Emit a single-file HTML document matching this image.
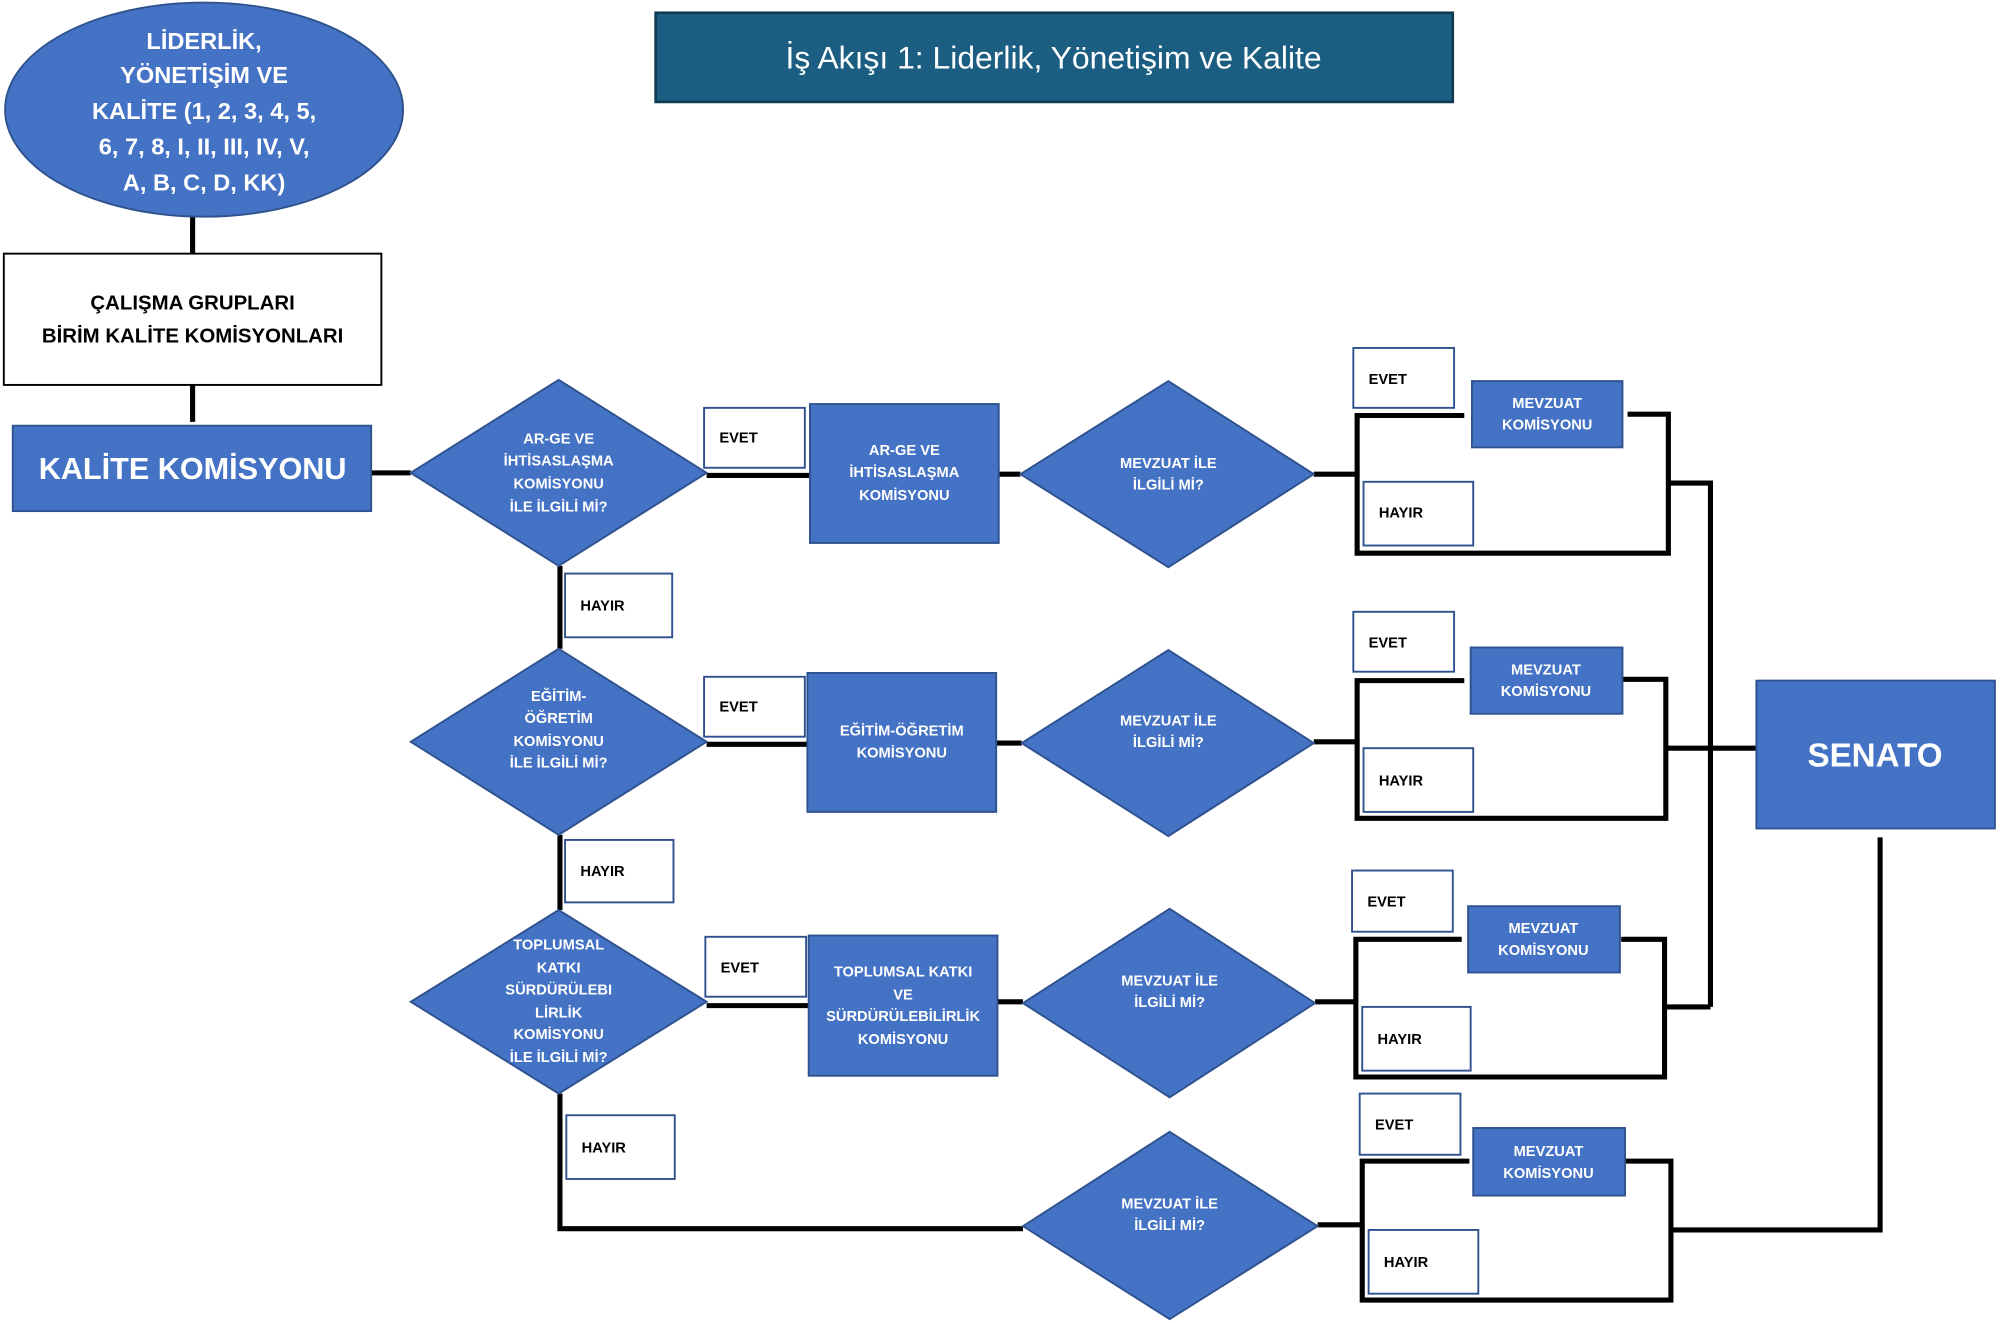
<!DOCTYPE html>
<html><head><meta charset="utf-8"><style>
html,body{margin:0;padding:0;background:#fff;}
svg{display:block;}
text{font-family:"Liberation Sans",sans-serif;font-weight:bold;dominant-baseline:central;}
.w{fill:#fff;text-anchor:middle;}
.b{fill:#000;}
.s{font-size:11.5px;}
.ln{stroke:#000;stroke-width:4;fill:none;}
.bl{fill:#4472C4;stroke:#2F528F;stroke-width:1.5;}
.lb{fill:#fff;stroke:#2F528F;stroke-width:1.5;}
</style></head><body>
<svg width="2000" height="1323" viewBox="0 0 1568 1038" preserveAspectRatio="none" xmlns="http://www.w3.org/2000/svg">
<!-- lines -->
<g class="ln">
<path d="M151 170V199M151 302V331M291 371H322M554 373H635M783 372H800M1030 372H1064"/>
<path d="M1062 326H1148M1064 326V434H1308V325H1276M1308 379H1341V790"/>
<path d="M439 444V509M554 584H633M781 583H801M1030 582H1064"/>
<path d="M1062 534H1148M1064 534V642H1306V533H1272M1306 587H1377"/>
<path d="M439 655V714M554 789H634M782 786H802M1031 786H1063"/>
<path d="M1061 737H1146M1063 737V845H1305V737H1271M1305 790H1341"/>
<path d="M439 858V964H802M1033 961H1068"/>
<path d="M1066 911H1152M1068 911V1020H1310V911H1274M1309 965H1474V657"/>
</g>
<!-- ellipse -->
<ellipse cx="160" cy="86" rx="156" ry="84" class="bl"/>
<g class="w" font-size="18.5">
<text x="160" y="32">LİDERLİK,</text>
<text x="160" y="59">YÖNETİŞİM VE</text>
<text x="160" y="87">KALİTE (1, 2, 3, 4, 5,</text>
<text x="160" y="115">6, 7, 8, I, II, III, IV, V,</text>
<text x="160" y="143">A, B, C, D, KK)</text>
</g>
<!-- title -->
<rect x="514" y="10" width="625" height="70" fill="#1B5E82" stroke="#0E3A50" stroke-width="2"/>
<text x="826" y="45" class="w" style="font-weight:normal" font-size="25">İş Akışı 1: Liderlik, Yönetişim ve Kalite</text>
<!-- calisma -->
<rect x="3" y="199" width="296" height="103" fill="#fff" stroke="#000" stroke-width="1.5"/>
<text x="151" y="238" class="b" text-anchor="middle" font-size="16">ÇALIŞMA GRUPLARI</text>
<text x="151" y="264" class="b" text-anchor="middle" font-size="16">BİRİM KALİTE KOMİSYONLARI</text>
<rect x="10" y="334" width="281" height="67" class="bl"/>
<text x="151" y="368" class="w" font-size="24">KALİTE KOMİSYONU</text>
<!-- diamonds left -->
<polygon points="322,371 438,298 554,371 438,444" class="bl"/>
<g class="w s"><text x="438" y="345">AR-GE VE</text><text x="438" y="362">İHTİSASLAŞMA</text><text x="438" y="380">KOMİSYONU</text><text x="438" y="398">İLE İLGİLİ Mİ?</text></g>
<polygon points="322,582 438,509 554,582 438,655" class="bl"/>
<g class="w s"><text x="438" y="547">EĞİTİM-</text><text x="438" y="564">ÖĞRETİM</text><text x="438" y="582">KOMİSYONU</text><text x="438" y="599">İLE İLGİLİ Mİ?</text></g>
<polygon points="322,786 438,714 554,786 438,858" class="bl"/>
<g class="w s"><text x="438" y="742">TOPLUMSAL</text><text x="438" y="760">KATKI</text><text x="438" y="777">SÜRDÜRÜLEBI</text><text x="438" y="795">LİRLİK</text><text x="438" y="812">KOMİSYONU</text><text x="438" y="830">İLE İLGİLİ Mİ?</text></g>
<!-- commission boxes -->
<rect x="635" y="317" width="148" height="109" class="bl"/>
<g class="w s"><text x="709" y="354">AR-GE VE</text><text x="709" y="371">İHTİSASLAŞMA</text><text x="709" y="389">KOMİSYONU</text></g>
<rect x="633" y="528" width="148" height="109" class="bl"/>
<g class="w s"><text x="707" y="574">EĞİTİM-ÖĞRETİM</text><text x="707" y="591">KOMİSYONU</text></g>
<rect x="634" y="734" width="148" height="110" class="bl"/>
<g class="w s"><text x="708" y="763">TOPLUMSAL KATKI</text><text x="708" y="781">VE</text><text x="708" y="798">SÜRDÜRÜLEBİLİRLİK</text><text x="708" y="816">KOMİSYONU</text></g>
<!-- mevzuat diamonds -->
<polygon points="800,372 916,299 1030,372 916,445" class="bl"/>
<g class="w s"><text x="916" y="364">MEVZUAT İLE</text><text x="916" y="381">İLGİLİ Mİ?</text></g>
<polygon points="801,583 916,510 1030,583 916,656" class="bl"/>
<g class="w s"><text x="916" y="566">MEVZUAT İLE</text><text x="916" y="583">İLGİLİ Mİ?</text></g>
<polygon points="802,787 917,713 1031,787 917,861" class="bl"/>
<g class="w s"><text x="917" y="770">MEVZUAT İLE</text><text x="917" y="787">İLGİLİ Mİ?</text></g>
<polygon points="802,962 917,888 1033,962 917,1035" class="bl"/>
<g class="w s"><text x="917" y="945">MEVZUAT İLE</text><text x="917" y="962">İLGİLİ Mİ?</text></g>
<!-- mevzuat boxes -->
<rect x="1154" y="299" width="118" height="52" class="bl"/>
<g class="w s"><text x="1213" y="317">MEVZUAT</text><text x="1213" y="334">KOMİSYONU</text></g>
<rect x="1153" y="508" width="119" height="52" class="bl"/>
<g class="w s"><text x="1212" y="526">MEVZUAT</text><text x="1212" y="543">KOMİSYONU</text></g>
<rect x="1151" y="711" width="119" height="52" class="bl"/>
<g class="w s"><text x="1210" y="729">MEVZUAT</text><text x="1210" y="746">KOMİSYONU</text></g>
<rect x="1155" y="885" width="119" height="53" class="bl"/>
<g class="w s"><text x="1214" y="904">MEVZUAT</text><text x="1214" y="921">KOMİSYONU</text></g>
<!-- senato -->
<rect x="1377" y="534" width="187" height="116" class="bl"/>
<text x="1470" y="593" class="w" font-size="26">SENATO</text>
<!-- labels -->
<g>
<rect x="552" y="320" width="79" height="47" class="lb"/><text x="564" y="344" class="b s">EVET</text>
<rect x="443" y="450" width="84" height="50" class="lb"/><text x="455" y="476" class="b s">HAYIR</text>
<rect x="552" y="531" width="79" height="47" class="lb"/><text x="564" y="555" class="b s">EVET</text>
<rect x="443" y="659" width="85" height="49" class="lb"/><text x="455" y="684" class="b s">HAYIR</text>
<rect x="553" y="735" width="79" height="47" class="lb"/><text x="565" y="760" class="b s">EVET</text>
<rect x="444" y="875" width="85" height="50" class="lb"/><text x="456" y="901" class="b s">HAYIR</text>
<rect x="1061" y="273" width="79" height="47" class="lb"/><text x="1073" y="298" class="b s">EVET</text>
<rect x="1069" y="378" width="86" height="50" class="lb"/><text x="1081" y="403" class="b s">HAYIR</text>
<rect x="1061" y="480" width="79" height="47" class="lb"/><text x="1073" y="505" class="b s">EVET</text>
<rect x="1069" y="587" width="86" height="50" class="lb"/><text x="1081" y="613" class="b s">HAYIR</text>
<rect x="1060" y="683" width="79" height="48" class="lb"/><text x="1072" y="708" class="b s">EVET</text>
<rect x="1068" y="790" width="85" height="50" class="lb"/><text x="1080" y="816" class="b s">HAYIR</text>
<rect x="1066" y="858" width="79" height="48" class="lb"/><text x="1078" y="883" class="b s">EVET</text>
<rect x="1073" y="965" width="86" height="50" class="lb"/><text x="1085" y="991" class="b s">HAYIR</text>
</g>
</svg>
</body></html>
